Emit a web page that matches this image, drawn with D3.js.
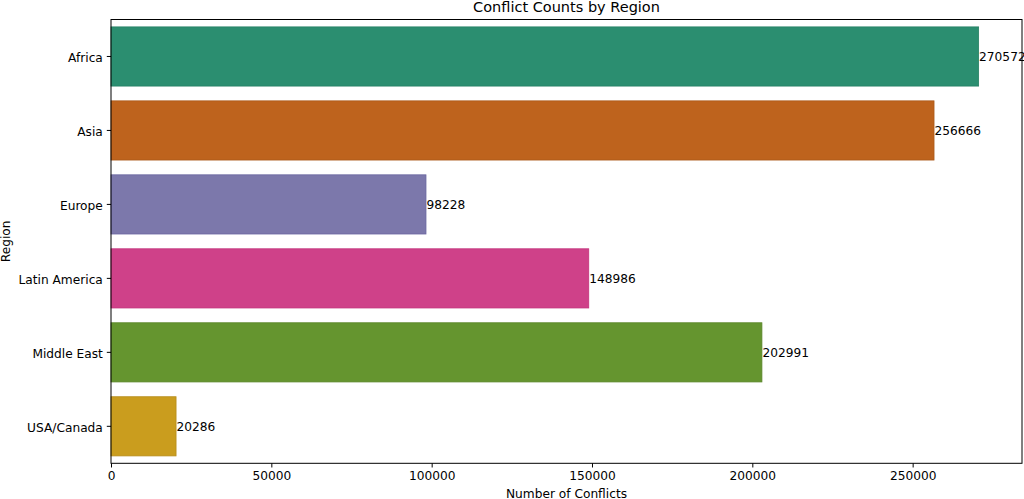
<!DOCTYPE html>
<html>
<head>
<meta charset="utf-8">
<script src="https://cdn.jsdelivr.net/npm/d3@7"></script>
<style>
    body { margin: 0; background: white; }
    text { font-family: "DejaVu Sans", sans-serif; fill: black; }
</style>
</head>
<body>
<div id="chart"></div>
<script>
// Chart data
var regions = ["Africa", "Asia", "Europe", "Latin America", "Middle East", "USA/Canada"];
var conflictCounts = [270572, 256666, 98228, 148986, 202991, 20286];
var xTicks = [0, 50000, 100000, 150000, 200000, 250000];
// Dark2 palette (seaborn desaturates it below)
var palette = ["#1b9e77", "#d95f02", "#7570b3", "#e7298a", "#66a61e", "#e6ab02"];

var width = 1024;
var height = 499;
var margin = { top: 19.5, right: 2, bottom: 35.7, left: 111 };
var innerW = width - margin.left - margin.right;
var innerH = height - margin.top - margin.bottom;

var svg = d3.select("#chart").append("svg")
    .attr("width", width)
    .attr("height", height);

var g = svg.append("g")
    .attr("transform", "translate(" + margin.left + "," + margin.top + ")");

// Scales
var xScale = d3.scaleLinear()
    .domain([0, d3.max(conflictCounts) * 1.05])
    .range([0, innerW]);

var yScale = d3.scaleBand()
    .domain(regions)
    .range([0, innerH])
    .paddingInner(0.2)
    .paddingOuter(0.1);

function fillColor(i) {
    var c = d3.hsl(palette[i]);
    c.s *= 0.75;
    return c.formatHex();
}

// Bars
g.selectAll(".bar")
    .data(regions)
    .enter()
    .append("rect")
    .attr("class", "bar")
    .attr("x", 0)
    .attr("y", d => yScale(d))
    .attr("width", (d, i) => xScale(conflictCounts[i]))
    .attr("height", yScale.bandwidth())
    .attr("fill", (d, i) => fillColor(i))
    .attr("stroke", (d, i) => d3.hsl(fillColor(i)).darker(0.3).formatHex())
    .attr("stroke-width", 0.8);

// Value labels
g.selectAll(".value")
    .data(regions)
    .enter()
    .append("text")
    .attr("class", "value")
    .attr("x", (d, i) => xScale(conflictCounts[i]) + 0.5)
    .attr("y", d => yScale(d) + yScale.bandwidth() / 2)
    .attr("dy", "0.35em")
    .style("font-size", "12.2px")
    .text((d, i) => conflictCounts[i]);

// Axes
var xAxis = d3.axisBottom(xScale)
    .tickValues(xTicks)
    .tickFormat(d3.format("d"))
    .tickSize(4.2)
    .tickPadding(4);

var yAxis = d3.axisLeft(yScale)
    .tickSize(4.2)
    .tickPadding(4);

var gx = g.append("g")
    .attr("transform", "translate(0," + innerH + ")")
    .call(xAxis);

var gy = g.append("g")
    .call(yAxis);

[gx, gy].forEach(function (a) {
    a.select(".domain").remove();
    a.selectAll("text").style("font-size", "12.2px").style("font-family", "DejaVu Sans");
    a.selectAll("line").attr("stroke", "black").attr("stroke-width", 1);
});
gy.selectAll("text").attr("dy", "0.45em");

// Frame (spines)
g.append("rect")
    .attr("x", 0)
    .attr("y", 0)
    .attr("width", innerW)
    .attr("height", innerH)
    .attr("fill", "none")
    .attr("stroke", "black")
    .attr("stroke-width", 1);

// Title
svg.append("text")
    .attr("x", margin.left + innerW / 2)
    .attr("y", 12)
    .style("font-size", "14.5px")
    .style("text-anchor", "middle")
    .text("Conflict Counts by Region");

// Axis labels
svg.append("text")
    .attr("x", margin.left + innerW / 2)
    .attr("y", 497.5)
    .style("font-size", "12.2px")
    .style("text-anchor", "middle")
    .text("Number of Conflicts");

svg.append("text")
    .attr("transform", "translate(10," + (margin.top + innerH / 2) + ") rotate(-90)")
    .style("font-size", "12.2px")
    .style("text-anchor", "middle")
    .text("Region");
</script>
</body>
</html>
